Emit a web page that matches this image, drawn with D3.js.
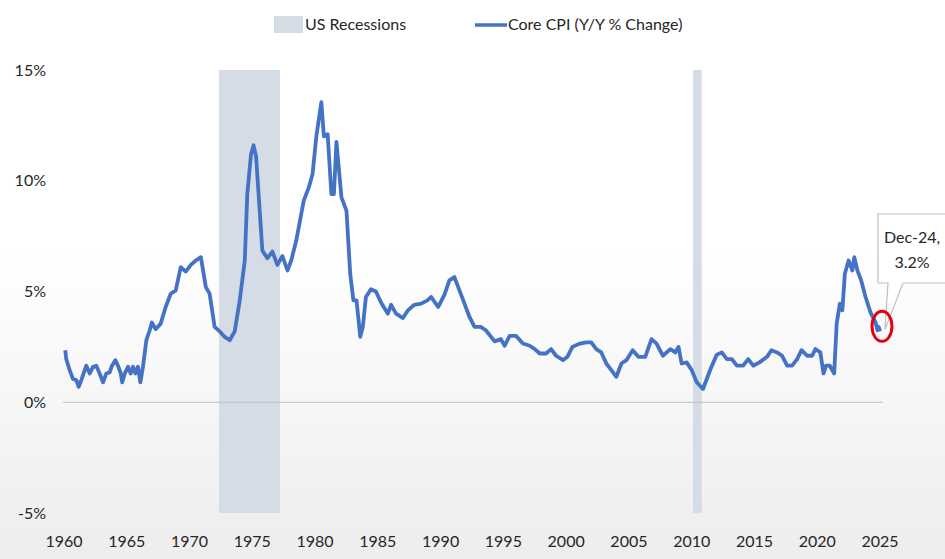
<!DOCTYPE html>
<html>
<head>
<meta charset="utf-8">
<script src="https://cdn.jsdelivr.net/npm/d3@7"></script>
<style>
  html, body { margin: 0; padding: 0; background: #fff; }
  svg { display: block; }
  text { font-family: Lato, "DejaVu Sans Condensed", sans-serif; fill: #262626; }
</style>
</head>
<body>
<div id="chart"></div>
<script>

// Core CPI, Y/Y % change
var cpiYear = [
	1960.1, 1960.18, 1960.45, 1960.72, 1960.98, 1961.17, 1961.38, 1961.59, 1961.78, 1962.05,
	1962.31, 1962.57, 1962.84, 1963.11, 1963.37, 1963.64, 1963.82, 1964.09, 1964.3, 1964.52,
	1964.64, 1964.84, 1965.1, 1965.31, 1965.5, 1965.68, 1965.89, 1966.08, 1966.29, 1966.56,
	1966.83, 1967.0, 1967.3, 1967.7, 1968.1, 1968.5, 1968.9, 1969.3, 1969.7, 1970.1,
	1970.5, 1970.9, 1971.3, 1971.6, 1972.0, 1972.4, 1972.8, 1973.2, 1973.6, 1974.0,
	1974.4, 1974.6, 1974.9, 1975.1, 1975.3, 1975.5, 1975.8, 1976.2, 1976.6, 1977.0,
	1977.4, 1977.8, 1978.1, 1978.5, 1978.9, 1979.1, 1979.5, 1979.8, 1980.1, 1980.5,
	1980.7, 1981.0, 1981.3, 1981.5, 1981.7, 1982.1, 1982.5, 1982.8, 1983.05, 1983.3,
	1983.6, 1983.8, 1984.05, 1984.45, 1984.85, 1985.25, 1985.8, 1986.05, 1986.45, 1987.0,
	1987.4, 1987.9, 1988.45, 1988.95, 1989.25, 1989.8, 1990.3, 1990.7, 1991.1, 1991.5,
	1991.9, 1992.3, 1992.7, 1993.2, 1993.6, 1994.3, 1994.8, 1995.1, 1995.5, 1996.0,
	1996.55, 1997.1, 1997.5, 1997.9, 1998.4, 1998.8, 1999.2, 1999.75, 2000.1, 2000.5,
	2001.1, 2001.6, 2002.0, 2002.4, 2002.8, 2003.2, 2003.6, 2004.0, 2004.4, 2004.8,
	2005.3, 2005.75, 2006.3, 2006.8, 2007.2, 2007.7, 2008.3, 2008.7, 2008.95, 2009.2,
	2009.6, 2010.0, 2010.4, 2010.9, 2011.5, 2012.0, 2012.4, 2012.8, 2013.2, 2013.6,
	2014.1, 2014.5, 2014.9, 2015.4, 2016.0, 2016.35, 2016.8, 2017.2, 2017.6, 2018.0,
	2018.4, 2018.75, 2019.2, 2019.6, 2019.85, 2020.25, 2020.5, 2020.7, 2021.0, 2021.35,
	2021.55, 2021.8, 2022.0, 2022.2, 2022.5, 2022.8, 2022.95, 2023.2, 2023.5, 2023.85,
	2024.25, 2024.65, 2024.8, 2024.9, 2025.0
];
var cpiValue = [
	2.35, 1.95, 1.45, 1.05, 1.0, 0.7, 1.0, 1.35, 1.65, 1.3,
	1.6, 1.65, 1.3, 0.9, 1.3, 1.35, 1.65, 1.9, 1.65, 1.3,
	0.9, 1.3, 1.6, 1.3, 1.6, 1.3, 1.6, 0.9, 1.6, 2.8,
	3.25, 3.6, 3.3, 3.55, 4.3, 4.9, 5.05, 6.1, 5.9, 6.2,
	6.4, 6.55, 5.2, 4.9, 3.4, 3.2, 2.95, 2.8, 3.2, 4.6,
	6.4, 9.4, 11.2, 11.6, 11.1, 9.4, 6.85, 6.5, 6.8, 6.2,
	6.6, 5.95, 6.4, 7.3, 8.5, 9.1, 9.7, 10.3, 12.0, 13.55,
	12.0, 12.1, 9.4, 9.4, 11.75, 9.25, 8.65, 5.8, 4.6, 4.6,
	2.95, 3.4, 4.75, 5.1, 5.0, 4.5, 4.0, 4.4, 4.0, 3.8,
	4.15, 4.4, 4.45, 4.6, 4.75, 4.3, 4.85, 5.5, 5.65, 5.05,
	4.45, 3.85, 3.4, 3.4, 3.25, 2.75, 2.85, 2.55, 3.0, 3.0,
	2.65, 2.55, 2.4, 2.2, 2.2, 2.4, 2.1, 1.9, 2.05, 2.5,
	2.65, 2.7, 2.7, 2.4, 2.25, 1.75, 1.45, 1.15, 1.75, 1.9,
	2.35, 2.05, 2.05, 2.85, 2.65, 2.1, 2.4, 2.25, 2.5, 1.75,
	1.8, 1.45, 0.9, 0.6, 1.5, 2.15, 2.25, 1.95, 1.95, 1.65,
	1.65, 1.95, 1.65, 1.8, 2.05, 2.35, 2.25, 2.1, 1.65, 1.65,
	1.95, 2.35, 2.1, 2.1, 2.4, 2.25, 1.3, 1.65, 1.65, 1.3,
	3.55, 4.45, 4.15, 5.8, 6.4, 5.95, 6.55, 5.95, 5.5, 4.75,
	4.05, 3.6, 3.25, 3.4, 3.2
];

// recession shading as drawn
var recessionStart = [1972.35, 2010.1];
var recessionEnd = [1977.2, 2010.8];

var yTicks = [-5, 0, 5, 10, 15];
var xTicks = [1960, 1965, 1970, 1975, 1980, 1985, 1990, 1995, 2000, 2005, 2010, 2015, 2020, 2025];

var lastLabel = ["Dec-24,", "3.2%"];

var width = 945,
	height = 559;

var x = d3.scaleLinear().domain([1960, 2025]).range([64, 880]);
var y = d3.scaleLinear().domain([-5, 15]).range([513, 70]);

var svg = d3.select("#chart").append("svg")
	.attr("width", width)
	.attr("height", height);

// background fades to light grey toward the bottom
var grad = svg.append("defs").append("linearGradient")
	.attr("id", "bg")
	.attr("x1", 0).attr("y1", 0).attr("x2", 0).attr("y2", 1);
grad.append("stop").attr("offset", "0.45").attr("stop-color", "#ffffff");
grad.append("stop").attr("offset", "1").attr("stop-color", "#ededed");

svg.append("rect")
	.attr("width", width)
	.attr("height", height)
	.attr("fill", "url(#bg)");

// recession bars
svg.selectAll("rect.recession")
	.data(recessionStart)
	.enter().append("rect")
	.attr("class", "recession")
	.attr("x", function (d) { return x(d); })
	.attr("width", function (d, i) { return x(recessionEnd[i]) - x(d); })
	.attr("y", y(15))
	.attr("height", y(-5) - y(15))
	.attr("fill", "#d6dce5");

// zero line
svg.append("line")
	.attr("x1", x(1960) - 1)
	.attr("x2", x(2025) + 3)
	.attr("y1", y(0))
	.attr("y2", y(0))
	.attr("stroke", "#bfbfbf")
	.attr("stroke-width", 1.2);

// y axis labels
svg.selectAll("text.ylab")
	.data(yTicks)
	.enter().append("text")
	.attr("class", "ylab")
	.attr("x", 46)
	.attr("y", function (d) { return y(d); })
	.attr("dy", "0.35em")
	.attr("text-anchor", "end")
	.style("font-size", "16px")
	.text(function (d) { return d + "%"; });

// x axis labels
svg.selectAll("text.xlab")
	.data(xTicks)
	.enter().append("text")
	.attr("class", "xlab")
	.attr("x", function (d) { return x(d); })
	.attr("y", 547)
	.attr("text-anchor", "middle")
	.style("font-size", "16px")
	.text(function (d) { return d; });

// the line
var line = d3.line()
	.x(function (d) { return x(d); })
	.y(function (d, i) { return y(cpiValue[i]); });

svg.append("path")
	.datum(cpiYear)
	.attr("fill", "none")
	.attr("stroke", "#4472c4")
	.attr("stroke-width", 3.8)
	.attr("stroke-linejoin", "round")
	.attr("d", line);

// callout for the last point
var lx = x(cpiYear[cpiYear.length - 1]),
	ly = y(cpiValue[cpiValue.length - 1]);

svg.append("path")
	.attr("d", "M 878 214 L 950 214 L 950 283 L 903 283 L " + (lx + 5) + " " + (ly - 2) + " L 888 283 L 878 283 Z")
	.attr("fill", "#fff")
	.attr("stroke", "#bfbfbf")
	.attr("stroke-width", 1.2);

svg.selectAll("text.callout")
	.data(lastLabel)
	.enter().append("text")
	.attr("class", "callout")
	.attr("x", 912)
	.attr("y", function (d, i) { return 243 + i * 25; })
	.attr("text-anchor", "middle")
	.style("font-size", "16px")
	.text(function (d) { return d; });

svg.append("ellipse")
	.attr("cx", lx + 2)
	.attr("cy", ly - 5)
	.attr("rx", 10)
	.attr("ry", 15)
	.attr("fill", "none")
	.attr("stroke", "#e3000f")
	.attr("stroke-width", 3);

// legend
var legend = svg.append("g");
legend.append("rect")
	.attr("x", 274).attr("y", 16)
	.attr("width", 29).attr("height", 17)
	.attr("fill", "#d6dce5");
legend.append("text")
	.attr("x", 305).attr("y", 30)
	.style("font-size", "16px")
	.text("US Recessions");
legend.append("line")
	.attr("x1", 475).attr("x2", 507)
	.attr("y1", 25).attr("y2", 25)
	.attr("stroke", "#4472c4")
	.attr("stroke-width", 3.5);
legend.append("text")
	.attr("x", 508).attr("y", 30)
	.style("font-size", "16px")
	.text("Core CPI (Y/Y % Change)");

</script>
</body>
</html>
